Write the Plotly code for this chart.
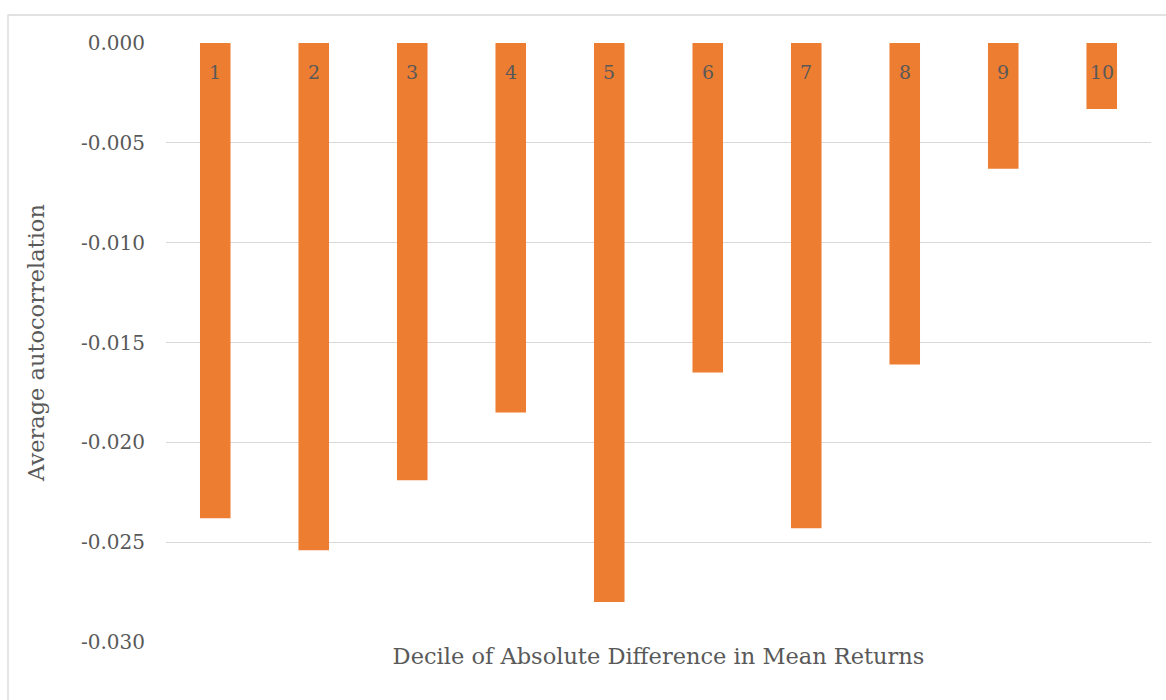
import plotly.graph_objects as go

categories = ["1", "2", "3", "4", "5", "6", "7", "8", "9", "10"]
values = [-0.0238, -0.0254, -0.0219, -0.0185, -0.0280, -0.0165, -0.0243, -0.0161, -0.0063, -0.0033]
tick_vals = [0.000, -0.005, -0.010, -0.015, -0.020, -0.025, -0.030]
tick_text = ["0.000", "-0.005", "-0.010", "-0.015", "-0.020", "-0.025", "-0.030"]

FONT = "DejaVu Serif"
GRAY = "#595959"

fig = go.Figure()
fig.add_trace(go.Bar(x=categories, y=values, marker_color="#ED7D31",
                     marker_line_width=0, width=0.31))

# category labels sit just under the zero line (category axis position = index)
for i, c in enumerate(categories):
    fig.add_annotation(x=i, y=0, text=c, showarrow=False, yanchor="middle",
                       yshift=-29, font=dict(family=FONT, size=19, color=GRAY))

fig.add_shape(type="rect", xref="paper", yref="paper",
              x0=(8 - 166) / 985, x1=(1170 - 166) / 985,
              y0=(642 - 710) / 599, y1=(642 - 15) / 599,
              line=dict(color="#d9d9d9", width=1.3), fillcolor="rgba(0,0,0,0)", layer="below")

fig.update_layout(
    width=1166, height=700,
    margin=dict(l=166, r=15, t=43, b=58),
    paper_bgcolor="white", plot_bgcolor="white",
    showlegend=False,
    font=dict(family=FONT, color=GRAY),
    xaxis=dict(type="category", showticklabels=False, showgrid=False, zeroline=False, showline=False,
               title=dict(text="Decile of Absolute Difference in Mean Returns",
                          font=dict(family=FONT, size=22.5, color=GRAY), standoff=6)),
    yaxis=dict(range=[-0.030, 0.0], tickvals=tick_vals, ticktext=tick_text,
               showgrid=True, gridcolor="#d9d9d9", gridwidth=1.3, zeroline=False,
               showline=False, ticks="", ticklabelstandoff=20,
               tickfont=dict(family=FONT, size=20, color=GRAY),
               title=dict(text="Average autocorrelation",
                          font=dict(family=FONT, size=22.5, color=GRAY), standoff=30)),
)

fig.write_html("out.html")
